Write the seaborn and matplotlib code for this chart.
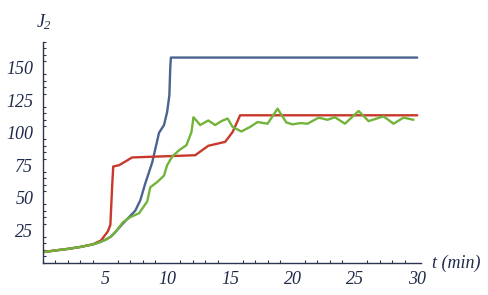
import numpy as np
import pandas as pd
import matplotlib
matplotlib.use("Agg")
import matplotlib.pyplot as plt
import seaborn as sns
from matplotlib.ticker import MultipleLocator

# --- data ---
blue_t = [0, 1, 2, 3, 4, 4.5, 5, 5.45, 5.85, 6.4, 7.0, 7.4, 7.8, 8.2, 8.75, 9.3, 9.7, 9.95, 10.13, 10.2, 10.25, 30]
blue_j = [8, 9.3, 10.5, 12, 14, 15.5, 17.5, 20, 24, 30, 36, 40, 48, 61, 77, 100, 106, 116, 129, 150, 158, 158]

red_t = [0, 1, 2, 3, 4, 4.65, 5.2, 5.4, 5.55, 5.63, 6.1, 6.8, 7.15, 12.2, 13.25, 14.6, 15.2, 15.5, 15.8, 30]
red_j = [8, 9.3, 10.5, 12, 14, 17, 24, 29, 60, 74, 75, 79, 81, 82.7, 90, 93, 100.6, 107, 113.5, 113.5]

green_t = [0, 1, 2, 3, 4, 4.5, 5, 5.45, 5.85, 6.4, 7.0, 7.7, 8.35, 8.6, 9.15, 9.7, 9.95, 10.35, 10.9, 11.5,
           11.9, 12.06, 12.6, 13.25, 13.8, 14.3, 14.8, 15.2, 15.9, 16.6, 17.2, 18.0, 18.8, 19.5, 20.0,
           20.65, 21.2, 22.1, 22.8, 23.4, 24.2, 25.3, 26.1, 27.3, 28.1, 28.9, 29.7]
green_j = [8, 9.3, 10.5, 12, 14, 15.5, 17.5, 20, 24, 31, 35, 38, 47, 58, 62, 67, 75, 81.5, 86.5, 90.5,
           100.5, 112, 106, 109.5, 106, 109, 111, 104.5, 101, 104.5, 108.3, 107, 118.6, 108, 106.5,
           107.5, 107, 111.7, 110, 112, 107, 116.8, 109, 112.7, 107, 111.7, 110]

x_ticks = [5, 10, 15, 20, 25, 30]
y_ticks = [25, 50, 75, 100, 125, 150]

df = pd.concat([
    pd.DataFrame({"t": blue_t, "J2": blue_j, "series": "blue"}),
    pd.DataFrame({"t": red_t, "J2": red_j, "series": "red"}),
    pd.DataFrame({"t": green_t, "J2": green_j, "series": "green"}),
], ignore_index=True)

sns.set_style("white")
plt.rcParams["font.family"] = ["Liberation Serif", "DejaVu Serif"]
plt.rcParams["font.style"] = "italic"
plt.rcParams["mathtext.fontset"] = "custom"
plt.rcParams["mathtext.it"] = "Liberation Serif:italic"
plt.rcParams["mathtext.rm"] = "Liberation Serif:italic"

fig = plt.figure(figsize=(4.88, 2.95), dpi=100)
ax = fig.add_axes([43 / 488, 32.5 / 295, 378 / 488, 220.5 / 295])

palette = {"blue": "#4a6390", "red": "#c8392b", "green": "#72b43a"}
sns.lineplot(data=df, x="t", y="J2", hue="series", palette=palette, legend=False,
             linewidth=1.7, sort=False, estimator=None, ax=ax,
             hue_order=["blue", "red", "green"])

ax.set_xlim(0, 30.3)
ax.set_ylim(0, 170)
ax.set_xlabel("")
ax.set_ylabel("")
ax.set_xticks(x_ticks)
ax.set_yticks(y_ticks)
ax.xaxis.set_minor_locator(MultipleLocator(1))
ax.yaxis.set_minor_locator(MultipleLocator(5))

axis_col = "#2e3550"
for s in ["top", "right"]:
    ax.spines[s].set_visible(False)
for s in ["left", "bottom"]:
    ax.spines[s].set_color(axis_col)
    ax.spines[s].set_linewidth(1.0)

ax.tick_params(axis="both", which="major", direction="in", length=4.5, width=1.0,
               color=axis_col, labelcolor="#1f2a4a", labelsize=13)
ax.tick_params(axis="both", which="minor", direction="in", length=2.5, width=0.8,
               color=axis_col, bottom=True, left=True)
ax.tick_params(axis="x", which="major", pad=6)
ax.tick_params(axis="y", which="major", pad=7)

fig.text(36 / 488, 1 - 27 / 295, r"$J_2$", fontsize=13, color="#1f2a4a", va="baseline", ha="left")
fig.text(432 / 488, 1 - 268 / 295, "t (min)", fontsize=13, fontstyle="italic",
         color="#1f2a4a", va="baseline", ha="left")

fig.savefig("out.png", dpi=100, facecolor="white")
